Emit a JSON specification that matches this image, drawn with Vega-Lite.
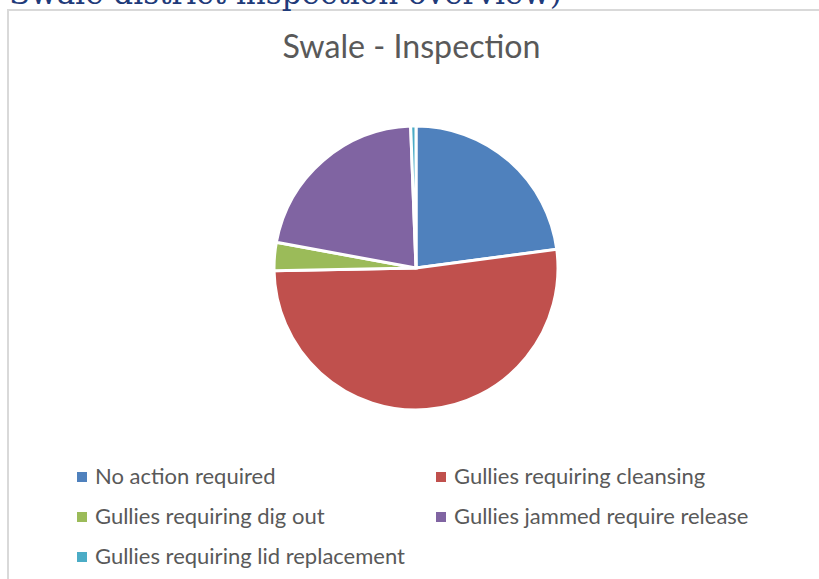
{
  "$schema": "https://vega.github.io/schema/vega-lite/v6.json",
  "autosize": "none",
  "width": 825,
  "height": 590,
  "padding": {"left": 8, "top": 10, "right": -14, "bottom": -21},
  "background": "white",
  "view": {"stroke": "#D9D9D9", "strokeWidth": 2, "fill": "white"},
  "title": {
    "text": "Swale district inspection overview)",
    "subtitle": "Swale - Inspection",
    "anchor": "middle",
    "frame": "group",
    "orient": "top",
    "offset": -55,
    "dx": -9,
    "font": "DejaVu Serif",
    "fontSize": 31,
    "fontWeight": "normal",
    "color": "#1F3B7A",
    "subtitleFont": "Lato",
    "subtitleFontSize": 32.2,
    "subtitleColor": "#595959",
    "subtitlePadding": 22,
    "encoding": {"align": {"value": "left"}, "dx": {"value": -411.5}}
  },
  "data": {
    "values": [
      {"category": "No action required", "share": 22.9, "rank": 1},
      {"category": "Gullies requiring cleansing", "share": 51.8, "rank": 2},
      {"category": "Gullies requiring dig out", "share": 3.2, "rank": 3},
      {"category": "Gullies jammed require release", "share": 21.5, "rank": 4},
      {"category": "Gullies requiring lid replacement", "share": 0.6, "rank": 5}
    ]
  },
  "mark": {
    "type": "arc",
    "outerRadius": 142,
    "stroke": "white",
    "strokeWidth": 3,
    "x": {"expr": "width/2 - 4.5"},
    "y": {"expr": "height/2 - 37"}
  },
  "encoding": {
    "theta": {"field": "share", "type": "quantitative", "stack": true},
    "order": {"field": "rank", "type": "quantitative"},
    "color": {
      "field": "category",
      "type": "nominal",
      "scale": {
        "domain": ["No action required", "Gullies requiring dig out", "Gullies requiring lid replacement", "Gullies requiring cleansing", "Gullies jammed require release"],
        "range": ["#4F81BD", "#9BBB59", "#4BACC6", "#C0504D", "#8064A2"]
      },
      "legend": {
        "title": null,
        "orient": "none",
        "legendX": 63,
        "legendY": 456,
        "columns": 2,
        "symbolType": "square",
        "symbolSize": 100,
        "symbolStrokeWidth": 0,
        "labelFont": "Lato",
        "labelFontSize": 22,
        "labelColor": "#595959",
        "labelLimit": 500,
        "labelOffset": 2,
        "columnPadding": 25,
        "rowPadding": 18
      }
    }
  }
}
